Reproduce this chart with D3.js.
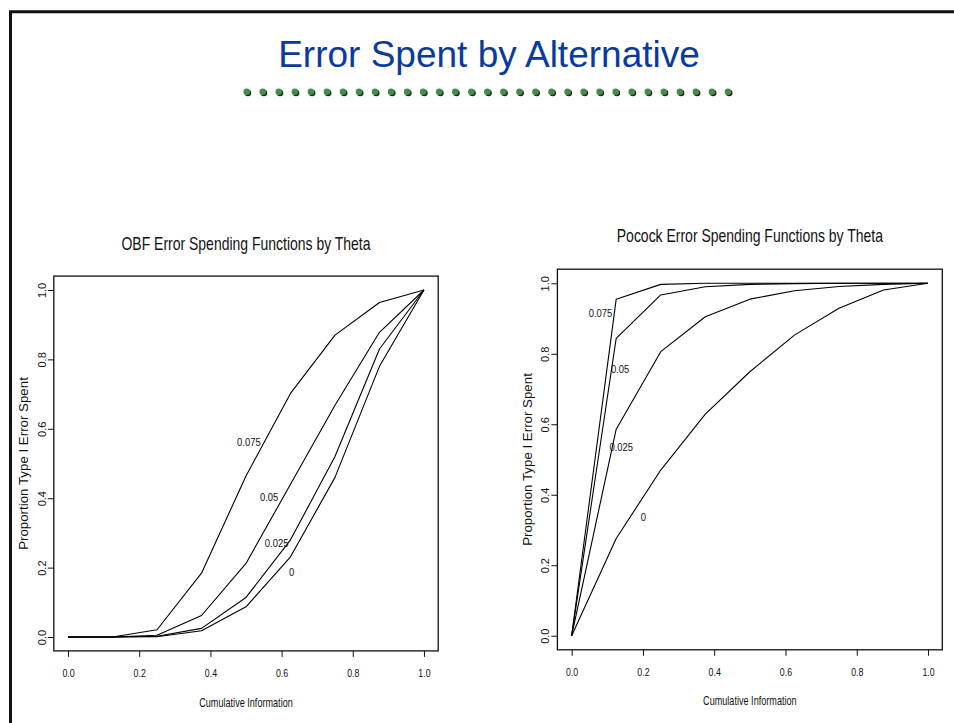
<!DOCTYPE html>
<html>
<head>
<meta charset="utf-8">
<script src="https://cdn.jsdelivr.net/npm/d3@7"></script>
<style>
  body { margin: 0; background: #fff; }
  text { font-family: "Liberation Sans", Arial, Helvetica, sans-serif; }
</style>
</head>
<body>
<div id="vis"></div>
<script>
// cumulative information fractions (9 looks)
const infoFrac = [0, 0.125, 0.25, 0.375, 0.5, 0.625, 0.75, 0.875, 1];
const thetas = ["0.075", "0.05", "0.025", "0"];
const tickVals = [0, 0.2, 0.4, 0.6, 0.8, 1.0];

// OBF proportion of type I error spent, by theta
const obf075 = [0, 0, 0.021, 0.184, 0.464, 0.702, 0.870, 0.964, 1];
const obf050 = [0, 0, 0.005, 0.062, 0.212, 0.440, 0.668, 0.878, 1];
const obf025 = [0, 0, 0.002, 0.025, 0.114, 0.280, 0.520, 0.830, 1];
const obf000 = [0, 0, 0.001, 0.018, 0.087, 0.231, 0.460, 0.780, 1];

// Pocock proportion of type I error spent, by theta
const poc075 = [0, 0.955, 0.997, 1, 1, 1, 1, 1, 1];
const poc050 = [0, 0.844, 0.967, 0.990, 0.997, 0.999, 1, 1, 1];
const poc025 = [0, 0.586, 0.806, 0.905, 0.955, 0.979, 0.991, 0.997, 1];
const poc000 = [0, 0.276, 0.470, 0.629, 0.749, 0.853, 0.929, 0.981, 1];

// where the theta labels sit (data coordinates, like R's text())
const obfLabelX = [0.508, 0.565, 0.586, 0.628];
const obfLabelY = [0.563, 0.404, 0.271, 0.188];
const pocLabelX = [0.081, 0.136, 0.139, 0.201];
const pocLabelY = [0.918, 0.759, 0.536, 0.338];

const W = 954, H = 723;

let svg = d3.select('#vis')
  .append('svg')
  .attr('width', W)
  .attr('height', H)
  .style('display', 'block');

// slide frame (top + left edge visible)
svg.append('path')
  .attr('d', `M10.5,${H} L10.5,11.7 L${W},11.7`)
  .attr('fill', 'none')
  .attr('stroke', '#111')
  .attr('stroke-width', 3);

// slide title
svg.append('text')
  .attr('x', 489)
  .attr('y', 67)
  .attr('text-anchor', 'middle')
  .attr('font-size', 37)
  .attr('fill', '#0a3a9e')
  .text('Error Spent by Alternative');

// row of green bullets under the title
let dotX = d3.scaleLinear().domain([0, 30]).range([246.7, 728]);
let dots = svg.append('g');
dots.selectAll('circle.shadow')
  .data(d3.range(31))
  .join('circle')
  .attr('class', 'shadow')
  .attr('cx', d => dotX(d) + 1.2)
  .attr('cy', 93)
  .attr('r', 3.3)
  .attr('fill', '#1e2a1e');
dots.selectAll('circle.dot')
  .data(d3.range(31))
  .join('circle')
  .attr('class', 'dot')
  .attr('cx', d => dotX(d))
  .attr('cy', 91.7)
  .attr('r', 3.3)
  .attr('fill', '#4a8a4c');

function drawPanel(opts) {
  let b = opts.box;
  let x = d3.scaleLinear().domain([-0.04, 1.04]).range([b.x0, b.x1]);
  let y = d3.scaleLinear().domain([-0.04, 1.04]).range([b.y1, b.y0]);
  let g = svg.append('g');

  // panel title
  g.append('text')
    .attr('transform', `translate(${(b.x0 + b.x1) / 2},${opts.titleY}) scale(0.79,1)`)
    .attr('text-anchor', 'middle')
    .attr('font-size', 17.7)
    .attr('fill', '#111')
    .text(opts.title);

  // x axis
  let xa = g.append('g')
    .attr('transform', `translate(0,${b.y1})`)
    .call(d3.axisBottom(x).tickValues(tickVals).tickSize(6).tickFormat(d3.format('.1f')));
  xa.select('.domain').remove();
  xa.selectAll('line').attr('stroke', '#111').attr('stroke-width', 1);
  xa.selectAll('text')
    .attr('y', 22)
    .attr('dy', null)
    .attr('dominant-baseline', 'central')
    .attr('transform', 'scale(0.8,1)')
    .attr('font-size', 11)
    .attr('font-family', '"Liberation Sans", Arial, sans-serif')
    .attr('fill', '#111');

  // y axis
  let ya = g.append('g')
    .attr('transform', `translate(${b.x0},0)`)
    .call(d3.axisLeft(y).tickValues(tickVals).tickSize(6).tickFormat(d3.format('.1f')));
  ya.select('.domain').remove();
  ya.selectAll('line').attr('stroke', '#111').attr('stroke-width', 1);
  ya.selectAll('text')
    .attr('x', 0)
    .attr('dy', null)
    .attr('text-anchor', 'middle')
    .attr('dominant-baseline', 'central')
    .attr('transform', 'translate(-12,0) rotate(-90)')
    .attr('font-size', 11)
    .attr('font-family', '"Liberation Sans", Arial, sans-serif')
    .attr('fill', '#111');

  // box
  g.append('rect')
    .attr('x', b.x0)
    .attr('y', b.y0)
    .attr('width', b.x1 - b.x0)
    .attr('height', b.y1 - b.y0)
    .attr('fill', 'none')
    .attr('stroke', '#111')
    .attr('stroke-width', 1.3);

  // axis labels
  g.append('text')
    .attr('transform', `translate(${(b.x0 + b.x1) / 2},${opts.xlabY}) scale(0.7,1)`)
    .attr('text-anchor', 'middle')
    .attr('dominant-baseline', 'central')
    .attr('font-size', 13)
    .attr('fill', '#111')
    .text('Cumulative Information');

  g.append('text')
    .attr('transform', `translate(${opts.ylabX},${(b.y0 + b.y1) / 2}) rotate(-90)`)
    .attr('text-anchor', 'middle')
    .attr('dominant-baseline', 'central')
    .attr('font-size', 13.3)
    .attr('fill', '#111')
    .text('Proportion Type I Error Spent');

  // curves
  let line = d3.line()
    .x((d, i) => x(infoFrac[i]))
    .y(d => y(d));
  g.selectAll('path.curve')
    .data(opts.series)
    .join('path')
    .attr('class', 'curve')
    .attr('d', line)
    .attr('fill', 'none')
    .attr('stroke', '#000')
    .attr('stroke-width', 1.1)
    .attr('stroke-linejoin', 'round');

  // theta labels
  g.selectAll('text.lab')
    .data(thetas)
    .join('text')
    .attr('class', 'lab')
    .attr('transform', (d, i) => `translate(${x(opts.labX[i])},${y(opts.labY[i])}) scale(0.82,1)`)
    .attr('text-anchor', 'middle')
    .attr('dominant-baseline', 'central')
    .attr('font-size', 11.5)
    .attr('fill', '#111')
    .text(d => d);
}

drawPanel({
  box: { x0: 53.8, x1: 438.2, y0: 276.1, y1: 650.9 },
  title: 'OBF Error Spending Functions by Theta',
  titleY: 249.5,
  xlabY: 702,
  ylabX: 23,
  series: [obf075, obf050, obf025, obf000],
  labX: obfLabelX,
  labY: obfLabelY
});

drawPanel({
  box: { x0: 557.4, x1: 942.3, y0: 269.2, y1: 649.8 },
  title: 'Pocock Error Spending Functions by Theta',
  titleY: 242,
  xlabY: 700,
  ylabX: 527,
  series: [poc075, poc050, poc025, poc000],
  labX: pocLabelX,
  labY: pocLabelY
});
</script>
</body>
</html>
